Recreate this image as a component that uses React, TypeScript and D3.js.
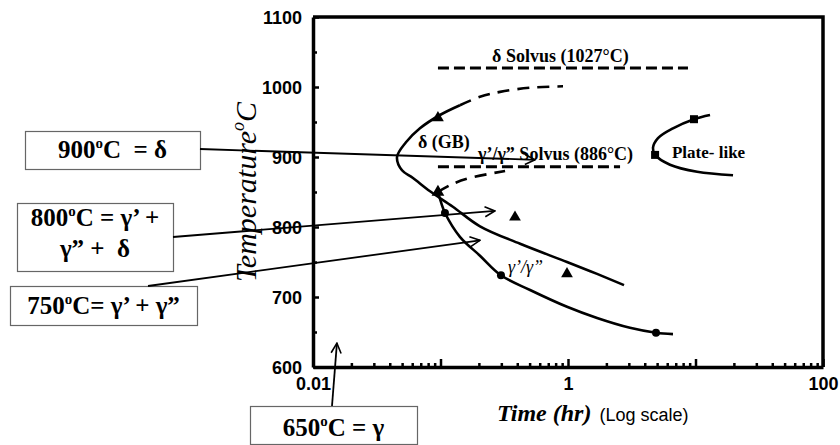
import React, { useEffect, useRef } from 'react';
import * as d3 from 'd3';

const W = 840;
const H = 445;

// [time (hr), temperature (°C)]
const cCurveSolid: [number, number][] = [
  [0.142, 974], [0.099, 960], [0.069, 941], [0.0536, 921], [0.0456, 900], [0.0499, 881],
  [0.0608, 870], [0.0828, 851], [0.125, 829], [0.204, 801], [0.421, 776], [0.982, 750],
  [1.69, 733], [2.75, 717],
];
const cCurveDashed: [number, number][] = [
  [0.142, 974], [0.204, 986], [0.293, 993], [0.504, 999], [0.914, 1001],
];
const gammaCurveSolid: [number, number][] = [
  [0.0955, 850], [0.1028, 831], [0.1084, 820], [0.142, 786], [0.204, 759], [0.298, 731],
  [0.504, 710], [0.982, 686], [1.69, 670], [3.06, 656], [4.9, 649], [6.66, 647],
];
const gammaCurveDashed: [number, number][] = [
  [0.0955, 850], [0.123, 861], [0.17, 870], [0.321, 880],
];
const plateCurve: [number, number][] = [
  [13.0, 960], [9.73, 954], [6.66, 941], [5.08, 927], [4.64, 913], [4.82, 903],
  [6.31, 889], [10.3, 879], [19.7, 874],
];
const circlePoints: [number, number][] = [[0.1084, 820], [0.298, 731], [4.9, 649]];
const squarePoints: [number, number][] = [[9.73, 954], [4.82, 903]];
const trianglePoints: [number, number][] = [[0.0955, 956], [0.384, 814], [0.982, 733]];
const startPoint: [number, number] = [0.0955, 850];

// [temperature, from time, to time]
const solvusLines: [number, number, number][] = [[1027, 0.0955, 8.73], [886, 0.0955, 2.56]];

const yTicks = [600, 700, 800, 900, 1000, 1100];
const yMinorTicks = [650, 750, 850, 950, 1050];
const xTickLabels = [0.01, 1, 100];
const xTickNames = ['0.01', '1', '100'];

// plot labels: [text, time, temperature]
const plotLabels: [string, number, number][] = [
  ['δ Solvus (1027°C)', 0.254, 1036],
  ['δ (GB)', 0.0665, 913],
  ['γ’/γ” Solvus (886°C)', 0.197, 896],
  ['Plate- like', 6.54, 899],
];
const phaseLabel: [string, number, number] = ['γ’/γ”', 0.338, 734];

// annotation boxes: lines of [before sup, sup, after]
const annoTexts: string[][][] = [
  [['900', 'o', 'C  = δ']],
  [['800', 'o', 'C = γ’ +'], ['γ” +  δ']],
  [['750', 'o', 'C= γ’ + γ”']],
  [['650', 'o', 'C = γ']],
];
// arrow tips in data units [time, temperature]
const annoTips: [number, number][] = [[0.551, 896], [0.267, 823], [0.204, 781], [0.0154, 634]];

const App = () => {
  const svgRef = useRef<SVGSVGElement>(null);

  useEffect(() => {
    const svg = d3.select(svgRef.current);
    svg.selectAll('*').remove();

    const margin = { top: 17, right: 17, bottom: 78, left: 313 };
    const x = d3.scaleLog().domain([0.01, 100]).range([margin.left, W - margin.right]);
    const y = d3.scaleLinear().domain([600, 1100]).range([H - margin.bottom, margin.top]);

    svg.append('defs').append('marker')
      .attr('id', 'arr')
      .attr('viewBox', '0 0 12 12')
      .attr('refX', 11).attr('refY', 6)
      .attr('markerWidth', 12).attr('markerHeight', 12)
      .attr('markerUnits', 'userSpaceOnUse')
      .attr('orient', 'auto')
      .append('path')
      .attr('d', 'M1,1 L11,6 L1,11')
      .attr('fill', 'none')
      .attr('stroke', '#000')
      .attr('stroke-width', 1.6);

    // frame
    svg.append('path')
      .attr('d', `M${x(0.01)},${y(1100)}H${x(100)}V${y(600)}`)
      .attr('fill', 'none').attr('stroke', '#000').attr('stroke-width', 3.5);

    // y axis
    const yAxis = svg.append('g').attr('transform', `translate(${x(0.01)},0)`)
      .call(d3.axisLeft(y).tickValues(yTicks).tickSizeInner(-6).tickSizeOuter(0).tickPadding(11)
        .tickFormat(d3.format('d')));
    svg.append('g').attr('transform', `translate(${x(0.01)},0)`)
      .call(d3.axisLeft(y).tickValues(yMinorTicks).tickSizeInner(-4).tickSizeOuter(0).tickFormat(() => ''))
      .select('.domain').remove();

    // x axis
    const minor: number[] = [];
    [0.01, 0.1, 1, 10].forEach(d => { for (let k = 2; k <= 9; k++) minor.push(d * k); });
    const xAxis = svg.append('g').attr('transform', `translate(0,${y(600)})`)
      .call(d3.axisBottom(x).tickValues(xTickLabels).tickSizeInner(-8).tickSizeOuter(0).tickPadding(10)
        .tickFormat((d, i) => xTickNames[i]));
    svg.append('g').attr('transform', `translate(0,${y(600)})`)
      .call(d3.axisBottom(x).tickValues([0.1, 10]).tickSizeInner(-8).tickSizeOuter(0).tickFormat(() => ''))
      .select('.domain').remove();
    svg.append('g').attr('transform', `translate(0,${y(600)})`)
      .call(d3.axisBottom(x).tickValues(minor).tickSizeInner(-4).tickSizeOuter(0).tickFormat(() => ''))
      .select('.domain').remove();

    svg.selectAll('.domain').attr('stroke', '#000').attr('stroke-width', 3.5);
    svg.selectAll('.tick line').attr('stroke', '#000').attr('stroke-width', 2.5);
    [yAxis, xAxis].forEach(g => g.selectAll('text')
      .attr('fill', '#000')
      .style('font-family', '"Liberation Sans", Arial, sans-serif')
      .style('font-size', '18px')
      .style('font-weight', 'bold'));
    yAxis.selectAll('text').attr('dy', '0.36em');

    // axis titles
    const yTitle = svg.append('text')
      .attr('transform', `translate(256,${(y(600) + y(1100)) / 2}) rotate(-90)`)
      .attr('text-anchor', 'middle')
      .style('font-family', '"Liberation Serif", "Times New Roman", serif')
      .style('font-style', 'italic')
      .style('font-size', '30px');
    yTitle.append('tspan').text('Temperature');
    yTitle.append('tspan').attr('dy', -12).style('font-size', '18px').text('o');
    yTitle.append('tspan').attr('dy', 12).text('C');

    const xTitle = svg.append('text').attr('x', 497).attr('y', 421);
    xTitle.append('tspan')
      .style('font-family', '"Liberation Serif", "Times New Roman", serif')
      .style('font-style', 'italic').style('font-weight', 'bold').style('font-size', '24px')
      .text('Time (hr)');
    xTitle.append('tspan').attr('dx', 8)
      .style('font-family', '"Liberation Sans", Arial, sans-serif').style('font-size', '18px')
      .text('(Log scale)');

    // solvus lines
    svg.append('g').selectAll('line').data(solvusLines).enter().append('line')
      .attr('x1', d => x(d[1])).attr('x2', d => x(d[2]))
      .attr('y1', d => y(d[0])).attr('y2', d => y(d[0]))
      .attr('stroke', '#000').attr('stroke-width', 3).attr('stroke-dasharray', '11,5');

    // curves
    const line = d3.line<[number, number]>().x(d => x(d[0])).y(d => y(d[1])).curve(d3.curveCatmullRom.alpha(0.5));
    const curves: [[number, number][], string][] = [
      [cCurveSolid, ''], [cCurveDashed, '12,8'], [gammaCurveSolid, ''],
      [gammaCurveDashed, '12,8'], [plateCurve, ''],
    ];
    curves.forEach(([data, dash]) => {
      svg.append('path').datum(data).attr('d', line)
        .attr('fill', 'none').attr('stroke', '#000').attr('stroke-width', 2.6)
        .attr('stroke-dasharray', dash || null);
    });

    // markers
    svg.append('g').selectAll('circle').data(circlePoints).enter().append('circle')
      .attr('cx', d => x(d[0])).attr('cy', d => y(d[1])).attr('r', 4).attr('fill', '#000');
    svg.append('g').selectAll('rect').data(squarePoints).enter().append('rect')
      .attr('x', d => x(d[0]) - 4).attr('y', d => y(d[1]) - 4).attr('width', 8).attr('height', 8).attr('fill', '#000');
    const tri = d3.symbol().type(d3.symbolTriangle).size(60);
    svg.append('g').selectAll('path').data(trianglePoints).enter().append('path')
      .attr('d', tri).attr('transform', d => `translate(${x(d[0])},${y(d[1])})`).attr('fill', '#000');
    svg.append('path').attr('d', d3.symbol().type(d3.symbolTriangle).size(70))
      .attr('transform', `translate(${x(startPoint[0])},${y(startPoint[1])}) rotate(-120)`).attr('fill', '#000');

    // plot labels
    svg.append('g').selectAll('text').data(plotLabels).enter().append('text')
      .attr('x', d => x(d[1])).attr('y', d => y(d[2]))
      .style('font-family', '"Liberation Serif", "Times New Roman", serif')
      .style('font-weight', 'bold').style('font-size', (d, i) => (i === 3 ? '17px' : '18px'))
      .text(d => d[0]);
    svg.append('text').attr('x', x(phaseLabel[1])).attr('y', y(phaseLabel[2]))
      .style('font-family', '"Liberation Serif", "Times New Roman", serif')
      .style('font-style', 'italic').style('font-size', '18px')
      .text(phaseLabel[0]);

    // annotation boxes
    const boxes = [
      { x: 25, y: 131, w: 175, h: 38, base: [158], from: [200, 149] },
      { x: 17, y: 203, w: 156, h: 68, base: [226, 257], from: [173, 237] },
      { x: 10, y: 286, w: 187, h: 39, base: [314], from: [148, 286] },
      { x: 250, y: 406, w: 167, h: 38, base: [436], from: [332, 406] },
    ];
    boxes.forEach((b, i) => {
      const g = svg.append('g');
      g.append('rect').attr('x', b.x + 0.5).attr('y', b.y + 0.5).attr('width', b.w).attr('height', b.h)
        .attr('fill', '#fff').attr('stroke', '#666').attr('stroke-width', 1.2);
      annoTexts[i].forEach((segs, li) => {
        const t = g.append('text').attr('x', b.x + b.w / 2).attr('y', b.base[li])
          .attr('text-anchor', 'middle')
          .style('white-space', 'pre')
          .style('font-family', '"Liberation Serif", "Times New Roman", serif')
          .style('font-weight', 'bold').style('font-size', '25px');
        if (segs.length === 1) {
          t.append('tspan').text(segs[0]);
        } else {
          t.append('tspan').text(segs[0]);
          t.append('tspan').attr('dy', -10).style('font-size', '15px').text(segs[1]);
          t.append('tspan').attr('dy', 10).text(segs[2]);
        }
      });
      svg.append('line')
        .attr('x1', b.from[0]).attr('y1', b.from[1])
        .attr('x2', x(annoTips[i][0])).attr('y2', y(annoTips[i][1]))
        .attr('stroke', '#000').attr('stroke-width', 1.8)
        .attr('marker-end', 'url(#arr)');
    });
  }, []);

  return (
    <svg
      ref={svgRef}
      width={W}
      height={H}
      style={{ position: 'absolute', left: 0, top: 0, background: '#fff' }}
    />
  );
};

export default App;
